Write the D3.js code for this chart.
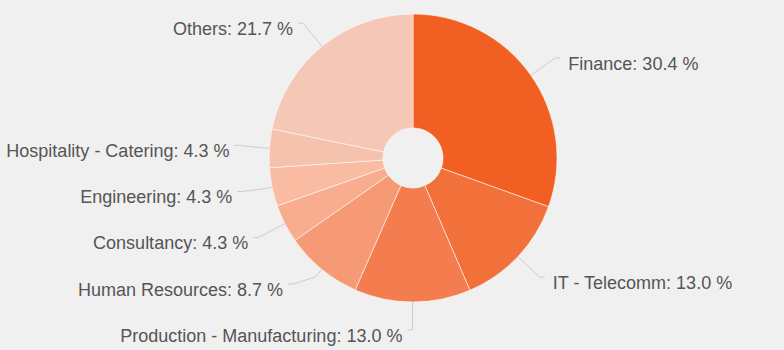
<!DOCTYPE html>
<html>
<head>
<meta charset="utf-8">
<script src="https://cdn.jsdelivr.net/npm/d3@7"></script>
<style>
  html, body { margin: 0; padding: 0; background: #f0f0f0; }
  svg { display: block; }
</style>
</head>
<body>
<svg id="chart" width="784" height="350"></svg>
<script>
const categories = ["Finance", "IT - Telecomm", "Production - Manufacturing", "Human Resources",
  "Consultancy", "Engineering", "Hospitality - Catering", "Others"];
const values = [30.4, 13.0, 13.0, 8.7, 4.3, 4.3, 4.3, 21.7];
const colors = ["#F15F22", "#F2703A", "#F47D50", "#F59A74", "#F7AD8E", "#F9BBA2", "#F5C2AE", "#F5C7B6"];

const W = 784, H = 350;
const cx = 413, cy = 158, R = 144, r0 = 30, dist = 30;
const labelR = R + dist, gap = 46, bottomLimit = H - 20, topLimit = 10;

const svg = d3.select("#chart");
const data = categories.map((c, i) => ({ name: c, value: values[i], color: colors[i] }));
const pie = d3.pie().value(d => d.value).sort(null);
const arcs = pie(data);
const arc = d3.arc().innerRadius(r0).outerRadius(R);

const g = svg.append("g").attr("transform", `translate(${cx},${cy})`);
g.selectAll("path.slice").data(arcs).enter().append("path")
  .attr("class", "slice")
  .attr("d", arc)
  .attr("fill", d => d.data.color)
  .attr("stroke", "rgba(255,255,255,0.55)")
  .attr("stroke-width", 1);

// label layout
const pts = arcs.map((a, i) => {
  const m = (a.startAngle + a.endAngle) / 2;
  const s = Math.sin(m), c = -Math.cos(m);
  return {
    a, i, m,
    left: m > Math.PI - 1e-9,
    nx: cx + labelR * s, ny: cy + labelR * c,
    ex: cx + R * s, ey: cy + R * c,
    bx: cx + (R + 10) * s, by: cy + (R + 10) * c
  };
});
function layout(side) {
  const arr = side.slice().sort((p, q) => p.ny - q.ny);
  arr.forEach(p => p.y = Math.max(topLimit, Math.min(bottomLimit, p.ny)));
  for (let k = arr.length - 2; k >= 0; k--) arr[k].y = Math.min(arr[k].y, arr[k + 1].y - gap);
  for (let k = 1; k < arr.length; k++) arr[k].y = Math.max(arr[k].y, arr[k - 1].y + gap);
  arr.forEach((p, k) => {
    if (k === 0 || k === arr.length - 1) p.x = p.nx;
    else {
      const dy = p.y - cy;
      const dx = Math.sqrt(Math.max(0, labelR * labelR - dy * dy));
      p.x = cx + (p.left ? -dx : dx);
    }
  });
}
layout(pts.filter(p => !p.left));
layout(pts.filter(p => p.left));

const lg = svg.append("g");
pts.forEach(p => {
  const dir = p.left ? -1 : 1;
  lg.append("path")
    .attr("d", d3.line()([[p.ex, p.ey], [p.bx, p.by], [p.x, p.y], [p.x + dir * 5, p.y]]))
    .attr("fill", "none")
    .attr("stroke", "#cccccc")
    .attr("stroke-width", 1);
  lg.append("text")
    .attr("x", p.x + dir * (p.left ? 10 : 13))
    .attr("y", p.y + 12)
    .attr("text-anchor", p.left ? "end" : "start")
    .attr("font-family", "'Liberation Sans', Arial, sans-serif")
    .attr("font-size", 18)
    .attr("fill", "#555555")
    .text(`${p.a.data.name}: ${p.a.data.value.toFixed(1)} %`);
});
</script>
</body>
</html>
